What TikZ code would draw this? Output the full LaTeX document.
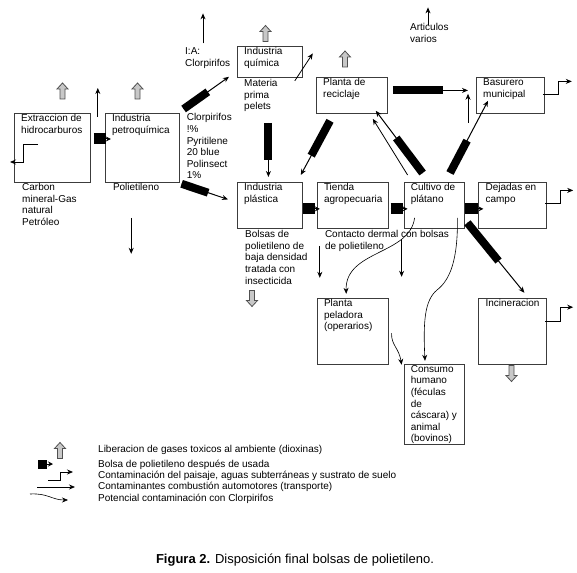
\documentclass[tikz,border=0pt]{standalone}
\usepackage{fontspec}
\setmainfont{Liberation Sans}
\usetikzlibrary{arrows.meta,calc,positioning}
\definecolor{Frame}{HTML}{3C3C3C}
\definecolor{GasFill}{HTML}{C8C8C8}
\definecolor{GasLine}{HTML}{505050}

\begin{document}
\begin{tikzpicture}[
      x=1pt, y=-1pt,
      font=\fontsize{10}{11.6}\selectfont,
      node distance=14pt,
      box/.style={draw=Frame,line width=0.8pt,anchor=north west,inner sep=0pt},
      boxtext/.style={anchor=north west,align=left,inner sep=0pt,xshift=7pt,yshift=-1.4pt},
      note/.style={anchor=north west,align=left,inner sep=0pt},
      legend/.style={anchor=base west,inner sep=0pt},
      bag/.style={-{Stealth[length=6pt,width=5pt]},line width=1pt,
        postaction={draw,-,line width=8pt,shorten >=#1}},
      bagstub/.style={-{Stealth[length=5pt,width=5pt]},line width=1pt,
        postaction={draw,-,line width=11pt,shorten >=#1}},
      soil/.style={-{Stealth[length=6pt,width=5pt]},line width=0.8pt},
      fume/.style={-{Stealth[length=6pt,width=5pt]},line width=0.8pt},
      pest/.style={-{Stealth[length=6pt,width=5pt]},line width=0.6pt},
      gas/.pic={\draw[fill=GasFill,draw=GasLine,line width=0.8pt]
        (-2.5,8) -- (-2.5,-2) -- (-5.5,-2) -- (0,-8) -- (5.5,-2) -- (2.5,-2) -- (2.5,8) -- cycle;}
    ]
      \useasboundingbox (0,0) rectangle (577,572);

      % boxes
      \node[box,minimum width=76pt,minimum height=69pt] (extraccion) at (14,113) {};
      \node[box,minimum width=74pt,minimum height=69pt,right=14pt of extraccion] (petroquimica) {};
      \node[box,minimum width=65pt,minimum height=31pt] (quimica) at (237,46) {};
      \node[box,minimum width=71pt,minimum height=36pt] (reciclaje) at (316,77) {};
      \node[box,minimum width=68pt,minimum height=36pt] (basurero) at (476,77) {};
      \node[box,minimum width=65pt,minimum height=46pt] (plastica) at (237,182) {};
      \node[box,minimum width=71pt,minimum height=46pt,right=14pt of plastica] (tienda) {};
      \node[box,minimum width=60pt,minimum height=46pt,right=15pt of tienda] (cultivo) {};
      \node[box,minimum width=68pt,minimum height=46pt,right=14pt of cultivo] (dejadas) {};
      \node[box,minimum width=71pt,minimum height=66pt,below=69pt of tienda] (peladora) {};
      \node[box,minimum width=68pt,minimum height=66pt,below=69pt of dejadas] (incineracion) {};
      \node[box,minimum width=60pt,minimum height=80pt,below=135pt of cultivo] (consumo) {};

      % texts in the boxes
      \node[boxtext] (extraccion-t) at (extraccion.north west) {Extraccion de\\hidrocarburos};
      \node[boxtext] (petroquimica-t) at (petroquimica.north west) {Industria\\petroquímica};
      \node[boxtext] (quimica-t) at (quimica.north west) {Industria\\química};
      \node[boxtext] (reciclaje-t) at (reciclaje.north west) {Planta de\\reciclaje};
      \node[boxtext] (basurero-t) at (basurero.north west) {Basurero\\municipal};
      \node[boxtext] (plastica-t) at (plastica.north west) {Industria\\plástica};
      \node[boxtext] (tienda-t) at (tienda.north west) {Tienda\\agropecuaria};
      \node[boxtext] (cultivo-t) at (cultivo.north west) {Cultivo de\\plátano};
      \node[boxtext] (dejadas-t) at (dejadas.north west) {Dejadas en\\campo};
      \node[boxtext] (peladora-t) at (peladora.north west) {Planta\\peladora\\(operarios)};
      \node[boxtext] (incineracion-t) at (incineracion.north west) {Incineracion};
      \node[boxtext] (consumo-t) at (consumo.north west) {Consumo\\humano\\(féculas\\de\\cáscara) y\\animal\\(bovinos)};

      % notes beside the boxes
      \node[note] (fuentes) at ($(extraccion.south west)+(8,0.5)$) {Carbon\\mineral-Gas\\natural\\Petróleo};
      \node[note] (polietileno) at ($(petroquimica.south west)+(8,0.5)$) {Polietileno};
      \node[note] (ia) at (185,47.4) {I:A:\\Clorpirifos};
      \node[note] (mezcla) at ($(petroquimica.north east)+(7,0.4)$) {Clorpirifos\\!\%\\Pyritilene\\20 blue\\Polinsect\\1\%};
      \node[note] (materia) at ($(quimica.south west)+(7,1.4)$) {Materia\\prima\\pelets};
      \node[note] (bolsas) at ($(plastica.south west)+(8,1.4)$) {Bolsas de\\polietileno de\\baja densidad\\tratada con\\insecticida};
      \node[note] (contacto) at ($(tienda.south west)+(8,1.4)$) {Contacto dermal con bolsas\\de polietileno};
      \node[note] (articulos) at (410,23.4) {Articulos\\varios};

      % gases
      \pic at (62.5,91) {gas};
      \pic at (137.5,91) {gas};
      \pic at (265.5,33.5) {gas};
      \pic at (345,59) {gas};
      \pic[rotate=180] at (252,298.5) {gas};
      \pic[rotate=180] at (511.5,373.5) {gas};

      % used bags
      \draw[bagstub=5] ($(extraccion.north east)+(3,26)$) -- ($(petroquimica.north west)+(6,26)$);
      \draw[bagstub=5] ($(plastica.east)+(0,3.5)$) -- ($(tienda.west)+(3,3.5)$);
      \draw[bagstub=5] ($(tienda.east)+(2,3.5)$) -- ($(cultivo.west)+(4,3.5)$);
      \draw[bagstub=5] ($(cultivo.east)+(1,3.5)$) -- ($(dejadas.west)+(5,3.5)$);
      \draw[bag=21] ($(petroquimica.south east)+(2,1)$) -- ($(plastica.west)+(-9,-6)$);
      \draw[bag=26] ($(petroquimica.north east)+(4,-4)$) -- ($(quimica.south west)+(-8,-1)$);
      \draw[bag=17] ($(quimica.south)+(-1.5,45)$) -- ($(plastica.north)+(-1.5,-5)$);
      \draw[bag=22] ($(reciclaje.south west)+(14,7)$) -- ($(plastica.north east)+(-2,-7)$);
      \draw[bag=34] ($(cultivo.north west)+(19,-9)$) -- ($(reciclaje.south east)+(-12,-3)$);
      \draw[bag=25] ($(reciclaje.east)+(5,-5)$) -- ($(basurero.west)+(-8,-5)$);
      \draw[bag=45] ($(cultivo.north)+(16,-9)$) -- ($(basurero.south west)+(12,-13)$);
      \draw[bag=41] ($(cultivo.south east)+(3,-6)$) -- ($(incineracion.north west)+(46,-5)$);

      % landscape, water and soil
      \draw[soil] ($(basurero.east)+(-2,-1)$) -- ++(16,0) -- ++(0,-13) -- ++(13,0);
      \draw[soil] ($(dejadas.east)+(-2,-2)$) -- ++(15,0) -- ++(0,-13) -- ++(13,0);
      \draw[soil] ($(incineracion.east)+(-2,-10)$) -- ++(15,0) -- ++(0,-14) -- ++(13,0);
      \draw[soil] ($(extraccion.north west)+(24,31)$) -- ++(-15,0) -- ++(0,18) -- ++(-13,0);

      % transport exhaust
      \draw[fume] ($(extraccion.north east)!0.5!(petroquimica.north west)+(0,4)$) -- ++(0,-29);
      \draw[fume] ($(ia.north west)+(18,-4)$) -- ++(0,-30);
      \draw[fume] ($(quimica.south east)+(-8,3)$) -- ($(quimica.east)+(10,-8.5)$);
      \draw[fume] ($(articulos.north west)+(18,2)$) -- ++(0,-18);
      \draw[fume] ($(petroquimica.south)+(-11,35)$) -- ++(0,36);
      \draw[fume] ($(tienda.south west)+(3,17)$) -- ++(0,32);
      \draw[fume] ($(cultivo.south west)+(-2,10)$) -- ++(0,38);
      \draw[fume] ($(cultivo.north west)+(4,-7)$) -- ($(reciclaje.south east)+(-15,5)$);
      \draw[fume] ($(basurero.south west)+(-8,9)$) -- ++(0,-29);

      % chlorpyrifos
      \draw[pest] ($(cultivo.south west)+(11,-11)$) .. controls (410,255) and (345,250) .. ($(peladora.north)+(-6.5,-4)$);
      \draw[pest] ($(cultivo.south east)+(-7,-11)$) .. controls (458,260) and (450,280) .. (437,290)
        .. controls (425,300) and (423,320) .. ($(consumo.north)+(-9,-3)$);
      \draw[pest] ($(peladora.east)+(3,2)$) .. controls (391,345) and (399,348) .. ($(consumo.north west)+(-2,1)$);

      % legend
      \node[legend] (ley-gas) at (98,452) {Liberacion de gases toxicos al ambiente (dioxinas)};
      \node[legend] (ley-bolsa) at (98,467) {Bolsa de polietileno después de usada};
      \node[legend] (ley-suelo) at (98,478.5) {Contaminación del paisaje, aguas subterráneas y sustrato de suelo};
      \node[legend] (ley-humo) at (98,489.5) {Contaminantes combustión automotores (transporte)};
      \node[legend] (ley-clor) at (98,501) {Potencial contaminación con Clorpirifos};
      \pic at (60,450.5) {gas};
      \fill (38,460) rectangle (47,468.5);
      \draw[-{Stealth[length=5pt,width=5pt]},line width=1pt] (46,464) -- (53,464);
      \draw[soil] (48,480) -- (60,480) -- (60,472) -- (73,472);
      \draw[fume] (37,487) -- (75,487);
      \draw[pest] (30,494) .. controls (48,493) and (52,500) .. (68,500);

      \node (caption) at (295,560) {\fontsize{13}{15}\selectfont\textbf{Figura 2.} Disposición final bolsas de polietileno.};
    \end{tikzpicture}
\end{document}
